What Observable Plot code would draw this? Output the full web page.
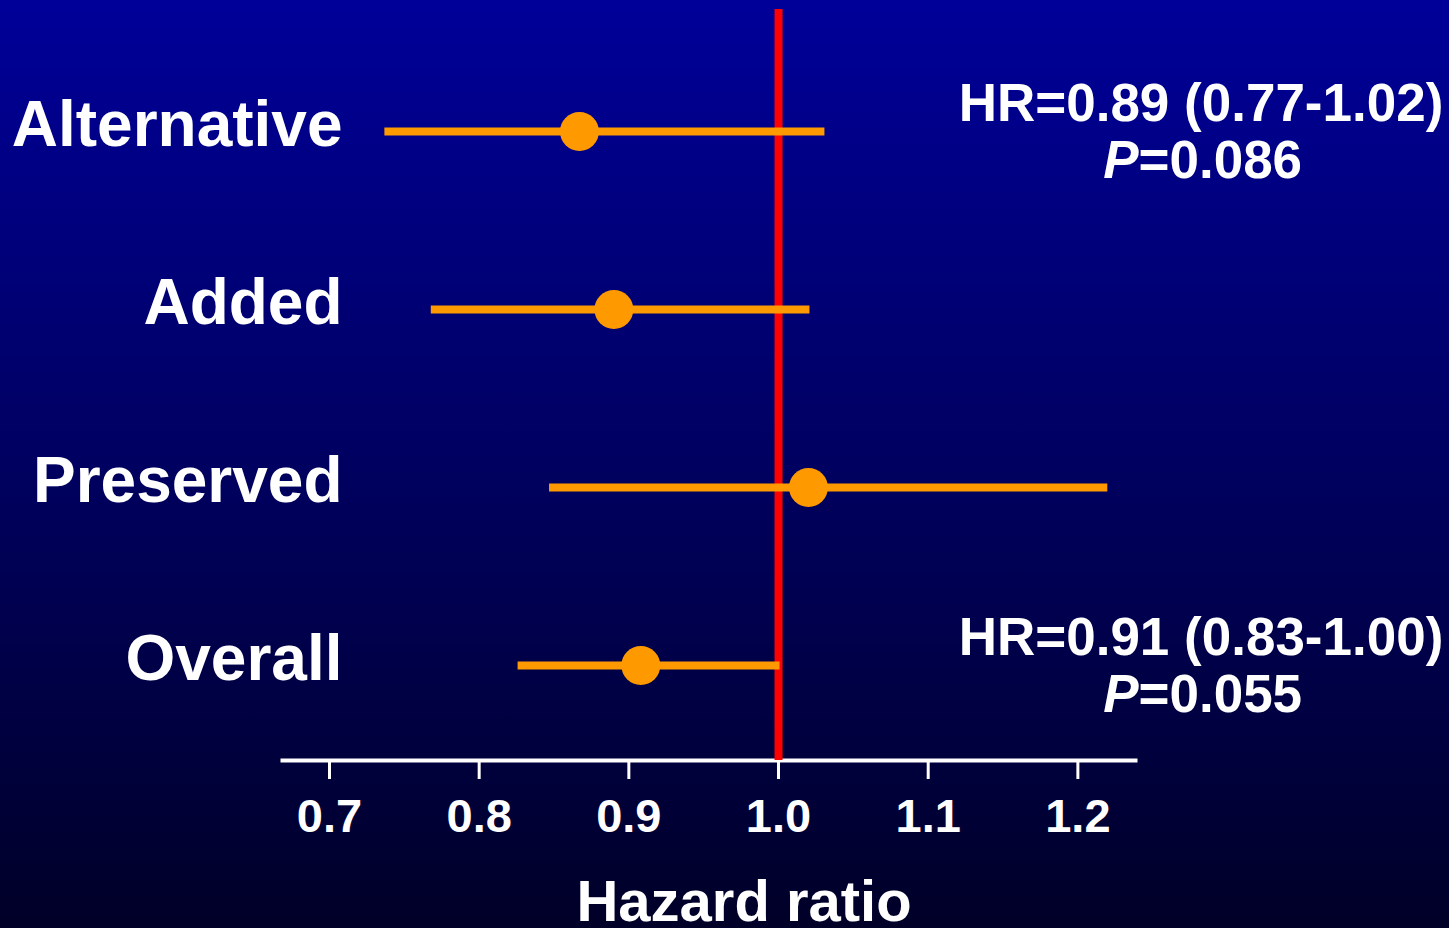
<!DOCTYPE html>
<html>
<head>
<meta charset="utf-8">
<script src="https://cdn.jsdelivr.net/npm/d3@7"></script>
<script src="https://cdn.jsdelivr.net/npm/@observablehq/plot@0.6"></script>
<style>
  html, body { margin: 0; padding: 0; overflow: hidden; }
  body { width: 1449px; height: 928px; background: linear-gradient(to bottom, #000099 0%, #000028 100%); }
  #chart svg { display: block; }
</style>
</head>
<body>
<div id="chart"></div>
<script>
// ---- data ----
const groups   = ["Alternative", "Added", "Preserved", "Overall"];
const hr       = [0.867, 0.890, 1.020, 0.908];
const ciLow    = [0.737, 0.768, 0.847, 0.826];
const ciHigh   = [1.031, 1.021, 1.220, 1.001];

const xTicks   = [0.7, 0.8, 0.9, 1.0, 1.1, 1.2];
const xTitle   = "Hazard ratio";
const refValue = [1.0];

const annGroups = ["Alternative", "Overall"];
const annHR     = ["HR=0.89 (0.77-1.02)", "HR=0.91 (0.83-1.00)"];
const annPVal   = ["=0.086", "=0.055"];

const rows = groups.map((g, i) => ({group: g, hr: hr[i], lo: ciLow[i], hi: ciHigh[i]}));
const ann  = annGroups.map((g, i) => ({group: g, hr: annHR[i], p: annPVal[i]}));

const orange = "#FF9900";
const font = "'Liberation Sans', Arial, Helvetica, sans-serif";

const chart = Plot.plot({
  width: 1449,
  height: 928,
  marginLeft: 282,
  marginRight: 314,
  marginTop: 9,
  marginBottom: 168,
  style: {background: "transparent", color: "white", fontFamily: font, fontWeight: "bold"},
  x: {domain: [0.6686, 1.2385]},
  y: {type: "point", domain: groups, range: [130.5, 664.5], padding: 0},
  marks: [
    Plot.frame({anchor: "bottom", stroke: "white", strokeWidth: 4}),
    Plot.ruleX(refValue, {stroke: "#FF0000", strokeWidth: 8}),
    Plot.ruleY(rows, {y: "group", x1: "lo", x2: "hi", stroke: orange, strokeWidth: 8}),
    Plot.dot(rows, {x: "hr", y: "group", r: 19.5, fill: orange, stroke: null}),
    Plot.axisX({ticks: xTicks, tickFormat: d => d.toFixed(1), tickSize: 19, tickPadding: 19,
                strokeWidth: 3, stroke: "white", fill: "white", fontSize: 47, fontWeight: "bold", label: null}),
    Plot.axisY({tickSize: 0, dx: 69, dy: -6, fontSize: 64, fill: "white", fontWeight: "bold", label: null}),
    Plot.text(ann, {y: "group", text: "hr", frameAnchor: "right", textAnchor: "middle",
                    lineAnchor: "bottom", dx: 65.5, dy: -11, fontSize: 53, fill: "white", fontWeight: "bold"}),
    Plot.text(ann, {y: "group", text: () => "P", frameAnchor: "right", textAnchor: "end",
                    lineAnchor: "bottom", dx: 3, dy: 46, fontSize: 53, fill: "white", fontWeight: "bold", fontStyle: "italic"}),
    Plot.text(ann, {y: "group", text: "p", frameAnchor: "right", textAnchor: "start",
                    lineAnchor: "bottom", dx: 3, dy: 46, fontSize: 53, fill: "white", fontWeight: "bold"}),
    Plot.text([xTitle], {text: d => d, frameAnchor: "bottom", textAnchor: "middle",
                    lineAnchor: "bottom", dx: 35, dy: 160, fontSize: 58, fill: "white", fontWeight: "bold"})
  ]
});
document.getElementById("chart").appendChild(chart);
</script>
</body>
</html>
